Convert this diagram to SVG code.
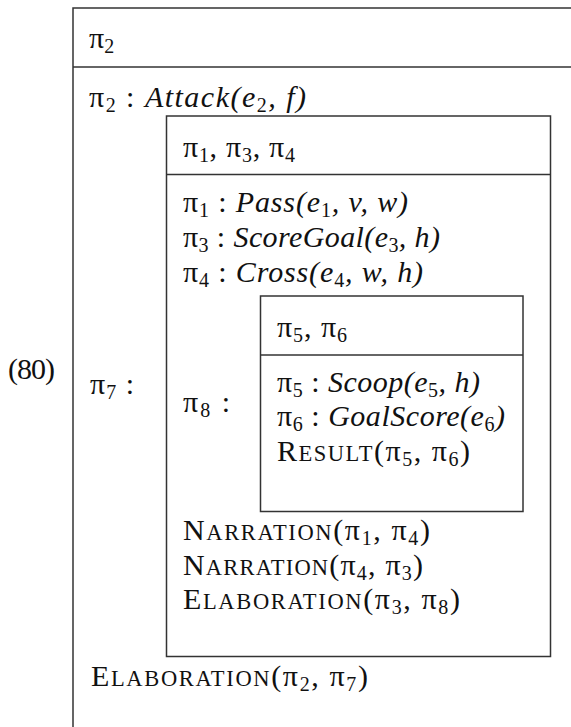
<svg xmlns="http://www.w3.org/2000/svg" width="571" height="727" viewBox="0 0 571 727">
  <style>
    .frame { fill: none; stroke: #333; stroke-width: 1.5; }
    .rule { stroke: #333; stroke-width: 1.5; }
    text { font-family: "Liberation Serif", "DejaVu Serif", serif; font-size: 30px; fill: #111; }
    .it { font-style: italic; }
    .sub { font-size: 20px; font-style: normal; }
    .sc { font-size: 22.5px; }
  </style>
  <rect width="571" height="727" fill="#fff"/>

  <!-- example number, centred on the outer box -->
  <text id="exnum" x="8" y="379" textLength="47" lengthAdjust="spacing">(80)</text>

  <!-- outermost segment: pi2 -->
  <g id="box-outer">
    <rect class="frame" x="73" y="8" width="520" height="740"/>
    <line class="rule" x1="73" y1="67" x2="593" y2="67"/>
    <text x="89" y="48">π<tspan class="sub" dy="5">2</tspan></text>
    <text x="89" y="107" textLength="217" lengthAdjust="spacing">π<tspan class="sub" dy="5">2</tspan><tspan dy="-5"> : </tspan><tspan class="it">Attack(e</tspan><tspan class="sub" dy="5">2</tspan><tspan class="it" dy="-5">, f)</tspan></text>
    <text x="90" y="394" textLength="44" lengthAdjust="spacing">π<tspan class="sub" dy="5">7</tspan><tspan dy="-5"> :</tspan></text>
    <text x="91" y="686" textLength="277" lengthAdjust="spacing">E<tspan class="sc">LABORATION</tspan>(π<tspan class="sub" dy="5">2</tspan><tspan dy="-5">, π</tspan><tspan class="sub" dy="5">7</tspan><tspan dy="-5">)</tspan></text>
  </g>

  <!-- pi7 segment: pi1, pi3, pi4 -->
  <g id="box-pi7">
    <rect class="frame" x="166.5" y="116" width="384" height="540.5"/>
    <line class="rule" x1="166.5" y1="174.5" x2="550.5" y2="174.5"/>
    <text x="183" y="157" textLength="112" lengthAdjust="spacing">π<tspan class="sub" dy="5">1</tspan><tspan dy="-5">, π</tspan><tspan class="sub" dy="5">3</tspan><tspan dy="-5">, π</tspan><tspan class="sub" dy="5">4</tspan></text>
    <text x="183" y="212" textLength="225" lengthAdjust="spacing">π<tspan class="sub" dy="5">1</tspan><tspan dy="-5"> : </tspan><tspan class="it">Pass(e</tspan><tspan class="sub" dy="5">1</tspan><tspan class="it" dy="-5">, v, w)</tspan></text>
    <text x="183" y="247" textLength="257" lengthAdjust="spacing">π<tspan class="sub" dy="5">3</tspan><tspan dy="-5"> : </tspan><tspan class="it">ScoreGoal(e</tspan><tspan class="sub" dy="5">3</tspan><tspan class="it" dy="-5">, h)</tspan></text>
    <text x="183" y="282" textLength="240" lengthAdjust="spacing">π<tspan class="sub" dy="5">4</tspan><tspan dy="-5"> : </tspan><tspan class="it">Cross(e</tspan><tspan class="sub" dy="5">4</tspan><tspan class="it" dy="-5">, w, h)</tspan></text>
    <text x="183" y="412" textLength="47" lengthAdjust="spacing">π<tspan class="sub" dy="5">8</tspan><tspan dy="-5"> :</tspan></text>
    <text x="183" y="540" textLength="247" lengthAdjust="spacing">N<tspan class="sc">ARRATION</tspan>(π<tspan class="sub" dy="5">1</tspan><tspan dy="-5">, π</tspan><tspan class="sub" dy="5">4</tspan><tspan dy="-5">)</tspan></text>
    <text x="183" y="575" textLength="240" lengthAdjust="spacing">N<tspan class="sc">ARRATION</tspan>(π<tspan class="sub" dy="5">4</tspan><tspan dy="-5">, π</tspan><tspan class="sub" dy="5">3</tspan><tspan dy="-5">)</tspan></text>
    <text x="183" y="609" textLength="277" lengthAdjust="spacing">E<tspan class="sc">LABORATION</tspan>(π<tspan class="sub" dy="5">3</tspan><tspan dy="-5">, π</tspan><tspan class="sub" dy="5">8</tspan><tspan dy="-5">)</tspan></text>
  </g>

  <!-- pi8 segment: pi5, pi6 -->
  <g id="box-pi8">
    <rect class="frame" x="260.5" y="296" width="262.5" height="215.5"/>
    <line class="rule" x1="260.5" y1="355" x2="523" y2="355"/>
    <text x="277" y="337" textLength="70" lengthAdjust="spacing">π<tspan class="sub" dy="5">5</tspan><tspan dy="-5">, π</tspan><tspan class="sub" dy="5">6</tspan></text>
    <text x="277" y="392" textLength="203" lengthAdjust="spacing">π<tspan class="sub" dy="5">5</tspan><tspan dy="-5"> : </tspan><tspan class="it">Scoop(e</tspan><tspan class="sub" dy="5">5</tspan><tspan class="it" dy="-5">, h)</tspan></text>
    <text x="277" y="426" textLength="228" lengthAdjust="spacing">π<tspan class="sub" dy="5">6</tspan><tspan dy="-5"> : </tspan><tspan class="it">GoalScore(e</tspan><tspan class="sub" dy="5">6</tspan><tspan class="it" dy="-5">)</tspan></text>
    <text x="277" y="461" textLength="193" lengthAdjust="spacing">R<tspan class="sc">ESULT</tspan>(π<tspan class="sub" dy="5">5</tspan><tspan dy="-5">, π</tspan><tspan class="sub" dy="5">6</tspan><tspan dy="-5">)</tspan></text>
  </g>

  <!-- no connectors in a nested box diagram -->
  <g id="connectors"/>
</svg>
